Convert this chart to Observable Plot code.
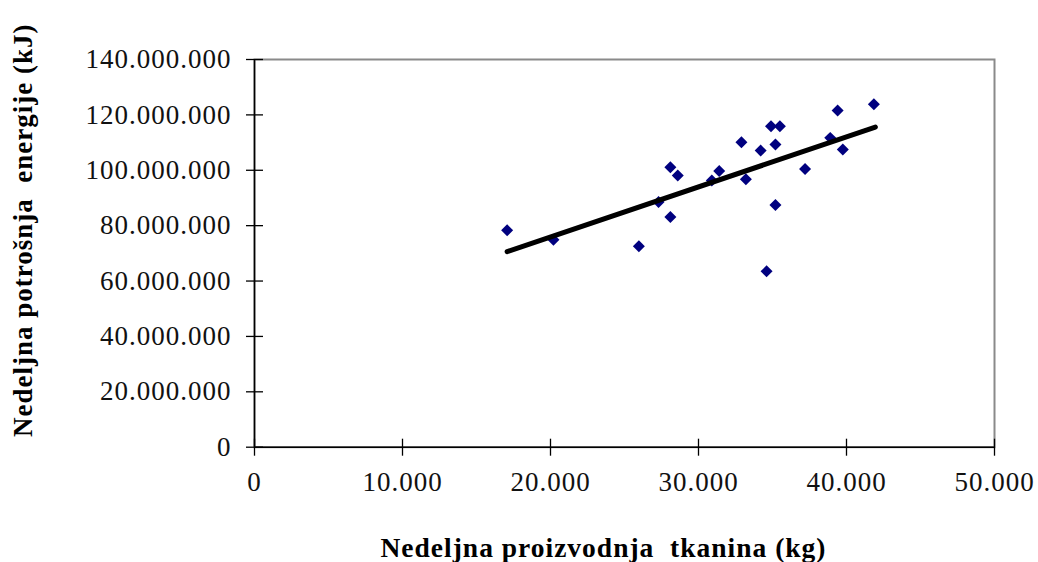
<!DOCTYPE html>
<html>
<head>
<meta charset="utf-8">
<script src="https://cdn.jsdelivr.net/npm/d3@7"></script>
<script src="https://cdn.jsdelivr.net/npm/@observablehq/plot@0.6"></script>
<style>
  html, body { margin: 0; padding: 0; background: #fff; }
  svg text { letter-spacing: 1px; }
</style>
</head>
<body>
<div id="chart"></div>
<script>
// Weekly fabric production (kg)
const production = [17070, 20200, 25970, 27300, 28100, 28600, 28100, 30900, 31400, 32900, 33200,
                    34200, 34600, 34900, 35500, 35200, 35200, 37200, 38900, 39400, 39750, 41850];
// Weekly energy consumption (kJ)
const energy = [78300000, 74900000, 72600000, 88500000, 101100000, 98100000, 83100000, 96300000,
                99700000, 110100000, 96800000, 107100000, 63500000, 115900000, 115900000, 109300000,
                87500000, 100500000, 111700000, 121600000, 107500000, 123800000];
// Linear trend line endpoints
const trendX = [17070, 41950];
const trendY = [70600000, 115600000];

const xTicks = [0, 10000, 20000, 30000, 40000, 50000];
const yTicks = [0, 20000000, 40000000, 60000000, 80000000, 100000000, 120000000, 140000000];

const xTitle = "Nedeljna proizvodnja  tkanina (kg)";
const yTitle = "Nedeljna potrošnja  energije (kJ)";

const points = production.map((x, i) => ({x, y: energy[i]}));
const trend = trendX.map((x, i) => ({x, y: trendY[i]}));

const fmt = d3.formatLocale({decimal: ",", thousands: ".", grouping: [3], currency: ["", ""]}).format(",");

const vTick = {draw(ctx) { ctx.moveTo(0, -8.5); ctx.lineTo(0, 8.5); }};
const hTick = {draw(ctx) { ctx.moveTo(-8.5, 0); ctx.lineTo(8.5, 0); }};

const font = "'Liberation Serif', 'Times New Roman', serif";

const chart = Plot.plot({
  width: 1038,
  height: 562,
  marginLeft: 254,
  marginRight: 44,
  marginTop: 59,
  marginBottom: 115.3,
  style: {fontFamily: font, background: "#fff", color: "#000"},
  x: {domain: [0, 50000]},
  y: {domain: [0, 140000000]},
  marks: [
    Plot.frame({stroke: "#8a8a8a", strokeWidth: 2}),
    Plot.ruleX([0], {stroke: "#000", strokeWidth: 1.5}),
    Plot.ruleY([0], {stroke: "#000", strokeWidth: 1.5}),
    Plot.dot(xTicks, {x: d => d, frameAnchor: "bottom", symbol: vTick, stroke: "#000", fill: "none", strokeWidth: 1.3}),
    Plot.dot(yTicks, {y: d => d, frameAnchor: "left", symbol: hTick, stroke: "#000", fill: "none", strokeWidth: 1.3}),
    Plot.axisX({ticks: xTicks, tickSize: 0, tickPadding: 25, tickFormat: fmt, fontSize: 27, label: null, fill: "#111"}),
    Plot.axisY({ticks: yTicks, tickSize: 0, tickPadding: 23, tickFormat: fmt, fontSize: 27, label: null, fill: "#111"}),
    Plot.dot(points, {x: "x", y: "y", symbol: "diamond2", r: 5.4, fill: "#00007f", stroke: "none"}),
    Plot.line(trend, {x: "x", y: "y", stroke: "#000", strokeWidth: 5, strokeLinecap: "round"}),
    Plot.text([xTitle], {frameAnchor: "bottom", lineAnchor: "middle", textAnchor: "middle", dy: 101, dx: -21, fontSize: 27.5, fontWeight: "bold", fill: "#000"}),
    Plot.text([yTitle], {frameAnchor: "left", lineAnchor: "middle", textAnchor: "middle", dx: -231, dy: -23, rotate: -90, fontSize: 27, fontWeight: "bold", fill: "#000"})
  ]
});
document.getElementById("chart").appendChild(chart);
</script>
</body>
</html>
